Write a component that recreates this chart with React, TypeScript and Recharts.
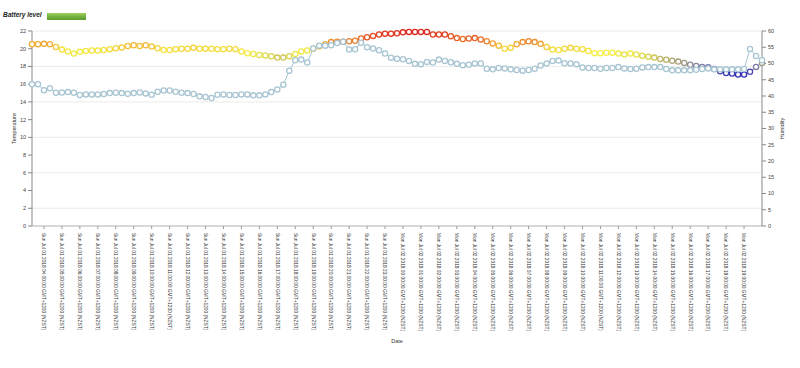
import { CartesianGrid, ComposedChart, Line, XAxis, YAxis } from "recharts"

// readings every 20 minutes, starting Sun Jul 01 2018 03:20 (NZST)
const startHour = 3 + 20 / 60
const stepHours = 20 / 60

const temperature = [
  20.5, 20.5, 20.55, 20.5, 20.2, 19.9, 19.7, 19.45, 19.65, 19.75,
  19.8, 19.8, 19.85, 19.95, 20.05, 20.15, 20.3, 20.4, 20.3, 20.4,
  20.25, 20.05, 19.85, 19.85, 19.95, 20.0, 20.0, 20.1, 20.0, 20.0,
  20.0, 19.95, 19.95, 20.0, 19.95, 19.7, 19.5, 19.4, 19.3, 19.25,
  19.15, 19.0, 19.0, 19.15, 19.4, 19.7, 19.8, 20.0, 20.25, 20.5,
  20.75, 20.8, 20.8, 20.85, 20.9, 21.15, 21.3, 21.45, 21.6, 21.7,
  21.7, 21.75, 21.85, 21.9, 21.9, 21.9, 21.9, 21.6, 21.6, 21.6,
  21.4, 21.2, 21.1, 21.15, 21.2, 21.05, 20.85, 20.6, 20.35, 20.0,
  20.1, 20.5, 20.75, 20.85, 20.75, 20.55, 20.2, 19.9, 19.85, 20.0,
  20.1, 20.0, 19.95, 19.75, 19.5, 19.5, 19.55, 19.55, 19.45, 19.35,
  19.45, 19.35, 19.2, 19.1, 19.0, 18.85, 18.75, 18.65, 18.55, 18.4,
  18.2, 18.05, 17.95, 17.9, 17.7, 17.45, 17.25, 17.2, 17.1, 17.1,
  17.4, 17.95, 18.4,
]

const humidity = [
  43.6, 43.6, 41.8, 42.4, 41.0, 41.1, 41.2, 41.0, 40.3, 40.5,
  40.5, 40.5, 40.6, 40.9, 41.0, 40.9, 40.7, 40.9, 41.1, 40.8,
  40.4, 41.3, 41.7, 41.7, 41.3, 41.0, 40.9, 40.6, 39.9, 39.7,
  39.4, 40.4, 40.5, 40.3, 40.3, 40.5, 40.5, 40.2, 40.2, 40.5,
  41.2, 42.0, 43.5, 47.8, 51.0, 51.2, 50.3, 54.6, 55.5, 55.5,
  55.6, 56.3, 56.7, 54.3, 54.4, 56.4, 55.0, 54.6, 54.1, 53.1,
  51.8, 51.5, 51.3, 50.8, 49.9, 49.8, 50.5, 50.3, 51.2, 50.8,
  50.4, 49.9, 49.5, 49.6, 50.0, 50.0, 48.4, 48.2, 48.6, 48.5,
  48.2, 48.0, 47.8, 48.0, 48.4, 49.4, 50.0, 50.8, 50.9, 50.1,
  50.0, 49.8, 48.8, 48.6, 48.6, 48.4, 48.6, 48.6, 48.9, 48.5,
  48.3, 48.4, 48.8, 48.9, 48.9, 48.9, 48.3, 47.9, 47.9, 47.9,
  47.9, 48.1, 48.3, 48.5, 48.2, 48.2, 48.2, 48.2, 48.2, 48.3,
  54.5, 52.3, 51.0,
]

// hourly ticks, Sun 04:00 .. Mon 19:00
const tickHours = Array.from({ length: 40 }, (_, i) => 4 + i)
const tempTicks = [0, 2, 4, 6, 8, 10, 12, 14, 16, 18, 20, 22]
const humTicks = [0, 5, 10, 15, 20, 25, 30, 35, 40, 45, 50, 55, 60]

// temperature colour scale (cold blue -> yellow -> hot red)
const tempStops: [number, string][] = [
  [17.0, "#2a2ab8"],
  [17.6, "#5a5ab0"],
  [18.1, "#8a8aa0"],
  [18.6, "#ada47a"],
  [19.1, "#d8d050"],
  [19.5, "#f5ef45"],
  [20.0, "#f2dc40"],
  [20.4, "#f0b838"],
  [20.8, "#ee8a30"],
  [21.3, "#e85a28"],
  [21.9, "#dc2a20"],
]

const data = temperature.map((t, i) => ({
  time: startHour + i * stepHours,
  temp: t,
  hum: humidity[i],
}))

const FONT = "'Liberation Sans', Arial, sans-serif"
const HUM_COLOR = "#a8c5d2"

function hexToRgb(h: string) {
  const n = parseInt(h.slice(1), 16)
  return [(n >> 16) & 255, (n >> 8) & 255, n & 255]
}

function tempColor(v: number) {
  if (v <= tempStops[0][0]) return tempStops[0][1]
  for (let i = 1; i < tempStops.length; i++) {
    const [v1, c1] = tempStops[i]
    if (v <= v1) {
      const [v0, c0] = tempStops[i - 1]
      const f = (v - v0) / (v1 - v0)
      const a = hexToRgb(c0)
      const b = hexToRgb(c1)
      const m = a.map((x, k) => Math.round(x + (b[k] - x) * f))
      return `rgb(${m[0]},${m[1]},${m[2]})`
    }
  }
  return tempStops[tempStops.length - 1][1]
}

const pad = (n: number) => (n < 10 ? "0" + n : "" + n)

function formatHour(h: number) {
  const day = h < 24 ? "Sun Jul 01" : "Mon Jul 02"
  return `${day} 2018 ${pad(h % 24)}:00:00 GMT+1200 (NZST)`
}

const tMax = Math.max(...temperature)
const tMin = Math.min(...temperature)

const TempDot = (props: any) => {
  const { cx, cy, payload, index } = props
  if (cx == null || cy == null) return <g key={`t${index}`} />
  return (
    <circle
      key={`t${index}`}
      cx={cx}
      cy={cy}
      r={2.6}
      fill="#fff"
      stroke={tempColor(payload.temp)}
      strokeWidth={1.3}
    />
  )
}

const HumDot = (props: any) => {
  const { cx, cy, index } = props
  if (cx == null || cy == null) return <g key={`h${index}`} />
  return <circle key={`h${index}`} cx={cx} cy={cy} r={2.6} fill="#fff" stroke={HUM_COLOR} strokeWidth={1.3} />
}

const DateTick = ({ x, y, payload }: any) => (
  <g transform={`translate(${x},${y})`}>
    <text
      transform="rotate(90)"
      x={2}
      y={0}
      dy="0.35em"
      fontSize={4.8}
      fill="#333"
      fontFamily={FONT}
      textAnchor="start"
    >
      {formatHour(payload.value)}
    </text>
  </g>
)

const SideLabel = ({ viewBox, value, dx }: any) => {
  const x = viewBox.x + dx
  const y = viewBox.y + viewBox.height / 2
  return (
    <text
      x={x}
      y={y}
      transform={`rotate(-90, ${x}, ${y})`}
      textAnchor="middle"
      dy="0.35em"
      fontSize={5.5}
      fill="#333"
      fontFamily={FONT}
    >
      {value}
    </text>
  )
}

const DateLabel = ({ viewBox }: any) => (
  <text
    x={viewBox.x + viewBox.width / 2}
    y={viewBox.y + viewBox.height + 5}
    textAnchor="middle"
    fontSize={5.5}
    fill="#333"
    fontFamily={FONT}
  >
    Date
  </text>
)

export default function App() {
  const span = tMax - tMin
  const gradStops = tempStops
    .filter(([v]) => v > tMin && v < tMax)
    .map(([v]) => v)
  const allStops = [tMax, ...gradStops.reverse(), tMin]

  return (
    <div style={{ position: "absolute", left: 0, top: 0, width: 800, height: 368, background: "#fff", fontFamily: FONT }}>
      <div style={{ position: "absolute", left: 3, top: 11, fontSize: 6.5, fontWeight: "bold", fontStyle: "italic", color: "#222" }}>
        Battery level
      </div>
      <div
        style={{
          position: "absolute",
          left: 47,
          top: 13,
          width: 39,
          height: 7,
          background: "linear-gradient(#a2d060, #6fae3a 60%, #5f9a30)",
        }}
      />
      <ComposedChart
        width={800}
        height={368}
        data={data}
        margin={{ top: 31, right: 8, bottom: 30, left: 8 }}
      >
        <defs>
          <linearGradient id="tempLine" x1="0" y1="0" x2="0" y2="1">
            {allStops.map((v, i) => (
              <stop key={i} offset={(tMax - v) / span} stopColor={tempColor(v)} />
            ))}
          </linearGradient>
        </defs>
        <CartesianGrid yAxisId="t" vertical={false} stroke="#e6e6e6" strokeWidth={0.8} />
        <XAxis
          dataKey="time"
          type="number"
          domain={["dataMin", "dataMax"]}
          ticks={tickHours}
          interval={0}
          height={112}
          tick={<DateTick />}
          tickSize={3}
          stroke="#999"
          axisLine={{ stroke: "#bbb" }}
          label={<DateLabel />}
        />
        <YAxis
          yAxisId="t"
          domain={[0, 22]}
          ticks={tempTicks}
          width={24}
          tickSize={4}
          tick={{ fontSize: 5.5, fill: "#444", fontFamily: FONT }}
          stroke="#888"
          label={<SideLabel value="Temperature" dx={6} />}
        />
        <YAxis
          yAxisId="h"
          orientation="right"
          domain={[0, 60]}
          ticks={humTicks}
          width={30}
          tickSize={4}
          tick={{ fontSize: 5.5, fill: "#444", fontFamily: FONT }}
          stroke="#888"
          label={<SideLabel value="Humidity" dx={20} />}
        />
        <Line
          yAxisId="t"
          dataKey="temp"
          type="linear"
          stroke="url(#tempLine)"
          strokeWidth={1}
          dot={TempDot}
          activeDot={false}
          isAnimationActive={false}
        />
        <Line
          yAxisId="h"
          dataKey="hum"
          type="linear"
          stroke={HUM_COLOR}
          strokeWidth={1}
          dot={HumDot}
          activeDot={false}
          isAnimationActive={false}
        />
      </ComposedChart>
    </div>
  )
}
